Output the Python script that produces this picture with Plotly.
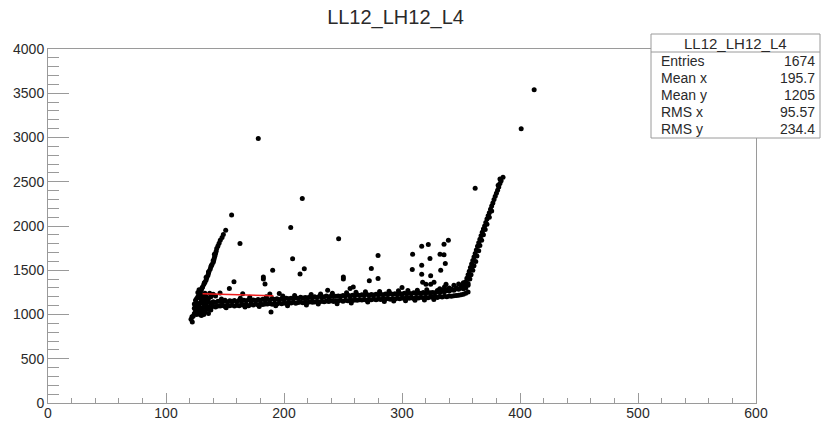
import plotly.graph_objects as go

# ---------------- data ----------------
title_text = "LL12_LH12_L4"

band_x = [126,128,130,132,134,136,138,140,142,144,
          146,148,150,152,154,156,158,160,162,164,
          166,168,170,172,174,176,178,180,182,184,
          186,188,190,192,194,196,198,200,202,204,
          206,208,210,212,214,216,218,220,222,224,
          226,228,230,232,234,236,238,240,242,244,
          246,248,250,252,254,256,258,260,262,264,
          266,268,270,272,274,276,278,280,282,284,
          286,288,290,292,294,296,298,300,302,304,
          306,308,310,312,314,316,318,320,322,324,
          326,328,330,332,334,336,338,340,342,344,
          346,348,350,352,354,356]
band_y_upper = [1125,1118,1140,1122,1135,1142,1130,1145,1136,1150,
                1148,1142,1160,1140,1155,1150,1158,1145,1162,1150,
                1160,1155,1168,1152,1165,1158,1170,1160,1172,1165,
                1172,1165,1180,1170,1178,1168,1182,1175,1185,1178,
                1185,1180,1190,1182,1195,1186,1192,1188,1198,1190,
                1200,1192,1205,1195,1200,1208,1198,1210,1202,1206,
                1210,1205,1215,1208,1220,1210,1218,1212,1222,1214,
                1222,1215,1228,1218,1225,1220,1230,1224,1228,1222,
                1232,1225,1236,1228,1234,1230,1238,1232,1240,1234,
                1240,1235,1245,1238,1244,1240,1248,1242,1250,1245,
                1250,1246,1255,1250,1262,1258,1270,1265,1280,1275,
                1290,1285,1300,1310,1320,1330]
band_y_lower = [1060,1078,1070,1085,1075,1088,1080,1092,1085,1096,
                1095,1102,1090,1105,1098,1108,1095,1104,1100,1110,
                1105,1112,1100,1115,1108,1118,1110,1120,1112,1118,
                1118,1125,1115,1128,1120,1130,1122,1130,1125,1132,
                1130,1138,1128,1135,1140,1132,1142,1136,1145,1138,
                1142,1148,1140,1150,1145,1152,1146,1155,1148,1152,
                1155,1160,1150,1162,1156,1165,1158,1164,1160,1166,
                1165,1170,1162,1172,1166,1175,1168,1176,1170,1178,
                1175,1180,1172,1182,1176,1185,1178,1186,1180,1188,
                1185,1190,1182,1192,1186,1195,1188,1196,1190,1198,
                1195,1200,1192,1202,1198,1206,1200,1210,1205,1212,
                1215,1218,1222,1228,1240,1255]

# ragged dots sticking out of the band edges
edge_x = [147,163,171,185,199,209,223,231,241,253,261,269,281,289,297,305,313,321,
          151,167,179,193,203,219,229,245,257,271,285,293,303,311,319,327]
edge_y = [1175,1185,1195,1200,1210,1215,1225,1232,1240,1245,1252,1256,1260,1262,1268,1270,1275,1280,
          1075,1085,1090,1098,1100,1108,1118,1122,1130,1140,1148,1152,1155,1162,1165,1170]

cluster_x = [122,123,124,125,124,125,126,125,126,127,127,128,129,128,129,130,
             129,131,130,131,132,133,132,133,134,135,136,137,135,127,128,124,
             126,130,132,134,138,140,142,136,138,165,188,196,
             128,129,133,131,335,338,330,334,332,336,340,342,344,346,348,350,
             352,354]
cluster_y = [975,980,1010,1040,1070,1100,1130,1160,1180,1200,1060,1020,1000,1090,1130,1160,
             1190,1220,1050,1010,1080,1030,1120,1170,1200,1060,1010,1240,1140,1250,1280,1120,
             1000,990,1000,1100,1050,1230,1210,1180,1200,1235,1232,1238,
             1230,1260,1240,1200,1275,1270,1270,1265,1290,1310,1300,1285,1330,1300,1345,1320,
             1360,1350]

left_branch_x = [129,130,131,132,133,134,134.5,135.5,136,136.5,137.5,138,139,140,140.5,
                 141,141.5,142,142.5,143,144,145,146,147.5,148.6,150.6,
                 130.5,132.5,134,136,138.5,140,141]
left_branch_y = [1250,1280,1310,1340,1365,1390,1415,1440,1465,1490,1515,1540,1565,1590,1615,
                 1640,1665,1690,1715,1746,1775,1805,1840,1870,1904,1953,
                 1300,1360,1420,1480,1555,1610,1680]

right_branch_x = [352,353,354,355,356,357,358,359,360,361,362,363,364,365,366,367,368,369,
                  370,371,372,373,374,375,376,377,378,379,380,381,382,383,384,385.6,383,381.5,
                  354,356,357.5,358.5,360,361,362.5,363.5,365,366,367.5,369,370.5,372,374,376]
right_branch_y = [1290,1330,1370,1410,1450,1490,1530,1570,1610,1650,1690,1730,1770,1810,1850,1890,1930,1965,
                  2000,2040,2080,2115,2150,2190,2225,2260,2300,2335,2370,2405,2440,2480,2510,2552,2530,2460,
                  1300,1350,1400,1450,1500,1550,1600,1660,1720,1780,1840,1900,1960,2020,2100,2170]

outlier_x = [178.2,215.5,155.6,205.7,162.7,246.3,279.7,207.3,190.4,217.2,213.6,182.5,182.5,
             157.6,183.9,250.3,250.3,274,279.7,272.3,256,258.7,153.7,145.8,189,237,300,
             121.2,122.3,309,316.7,322.3,335.6,339.3,323.7,332.2,335.6,336.7,316.7,308.7,
             332.8,316.7,324.3,317.5,320.3,324.3,327.1,337.3,362,401,412]
outlier_y = [2990,2311,2123,1984,1803,1855,1667,1629,1501,1516,1459,1425,1400,
             1369,1346,1425,1400,1520,1407,1380,1294,1312,1294,1244,1029,1275,1305,
             946,916,1682,1772,1791,1795,1840,1633,1682,1674,1577,1557,1509,
             1501,1456,1437,1365,1342,1342,1365,1342,2426,3100,3540]

fit_x = [131, 191]
fit_y = [1235, 1212]

stats_labels = ["Entries", "Mean x", "Mean y", "RMS x", "RMS y"]
stats_values = ["1674", "195.7", "1205", "95.57", "234.4"]

# ---------------- figure ----------------
all_x = band_x + band_x + edge_x + cluster_x + left_branch_x + right_branch_x + outlier_x
all_y = band_y_upper + band_y_lower + edge_y + cluster_y + left_branch_y + right_branch_y + outlier_y

FONT = "Liberation Sans, Arial, Helvetica, sans-serif"
AX = "#9a9a9a"
TXT = "#2a2a2a"

fig = go.Figure()
fig.add_trace(go.Scatter(x=all_x, y=all_y, mode="markers",
                         marker=dict(color="black", size=5, line=dict(width=0)),
                         showlegend=False, hoverinfo="skip"))
fig.add_trace(go.Scatter(x=fit_x, y=fit_y, mode="lines",
                         line=dict(color="#ee1c1c", width=1.5),
                         showlegend=False, hoverinfo="skip"))

W, H = 821, 421
L, R, T, B = 48, 65, 49, 18
pw, ph = W - L - R, H - T - B

def px_x(px):
    return (px - L) / pw

def px_y(py):
    return (H - B - py) / ph

fig.update_layout(
    width=W, height=H,
    margin=dict(l=L, r=R, t=T, b=B, autoexpand=False),
    paper_bgcolor="white", plot_bgcolor="white",
    font=dict(family=FONT, color=TXT),
    title=dict(text=title_text, x=403 / W, xanchor="center", xref="paper",
               y=1 - 17 / H, yanchor="middle", yref="container",
               font=dict(size=20, family=FONT, color=TXT)),
    xaxis=dict(range=[0, 600], dtick=100, tick0=0, ticks="inside", ticklen=10,
               tickcolor=AX, tickwidth=1, showline=True, linecolor=AX, linewidth=1,
               mirror=True, showgrid=False, zeroline=False, automargin=False,
               ticklabelstandoff=-3,
               tickfont=dict(size=14, family=FONT, color=TXT),
               minor=dict(ticks="inside", ticklen=5, dtick=20, tickcolor=AX,
                          tickwidth=1, showgrid=False)),
    yaxis=dict(range=[0, 4000], dtick=500, tick0=0, ticks="inside", ticklen=21,
               tickcolor=AX, tickwidth=1, showline=True, linecolor=AX, linewidth=1,
               mirror=True, showgrid=False, zeroline=False, automargin=False,
               tickfont=dict(size=14, family=FONT, color=TXT),
               minor=dict(ticks="inside", ticklen=11, dtick=100, tickcolor=AX,
                          tickwidth=1, showgrid=False)),
)

# stats box
bx0, bx1 = px_x(651), px_x(820)
by_top, by_bot, by_sep = px_y(34), px_y(138), px_y(52)
fig.add_shape(type="rect", xref="paper", yref="paper", x0=bx0, x1=bx1,
              y0=by_bot, y1=by_top, line=dict(color=AX, width=1),
              fillcolor="white", layer="above")
fig.add_shape(type="line", xref="paper", yref="paper", x0=bx0, x1=bx1,
              y0=by_sep, y1=by_sep, line=dict(color=AX, width=1), layer="above")
fig.add_annotation(text=title_text, xref="paper", yref="paper",
                   x=(bx0 + bx1) / 2, y=px_y(43), xanchor="center", yanchor="middle",
                   showarrow=False, font=dict(size=15, family=FONT, color=TXT))
row_y = [60.6, 77.8, 95.0, 112.2, 129.4]
for lab, val, ry in zip(stats_labels, stats_values, row_y):
    fig.add_annotation(text=lab, xref="paper", yref="paper", x=px_x(659), y=px_y(ry),
                       xanchor="left", yanchor="middle", showarrow=False,
                       font=dict(size=14, family=FONT, color=TXT))
    fig.add_annotation(text=val, xref="paper", yref="paper", x=px_x(817), y=px_y(ry),
                       xanchor="right", yanchor="middle", showarrow=False,
                       font=dict(size=14, family=FONT, color=TXT))

fig.write_html("out.html", config={"displayModeBar": False},
               post_script="document.body.style.margin='0';document.body.style.padding='0';")
